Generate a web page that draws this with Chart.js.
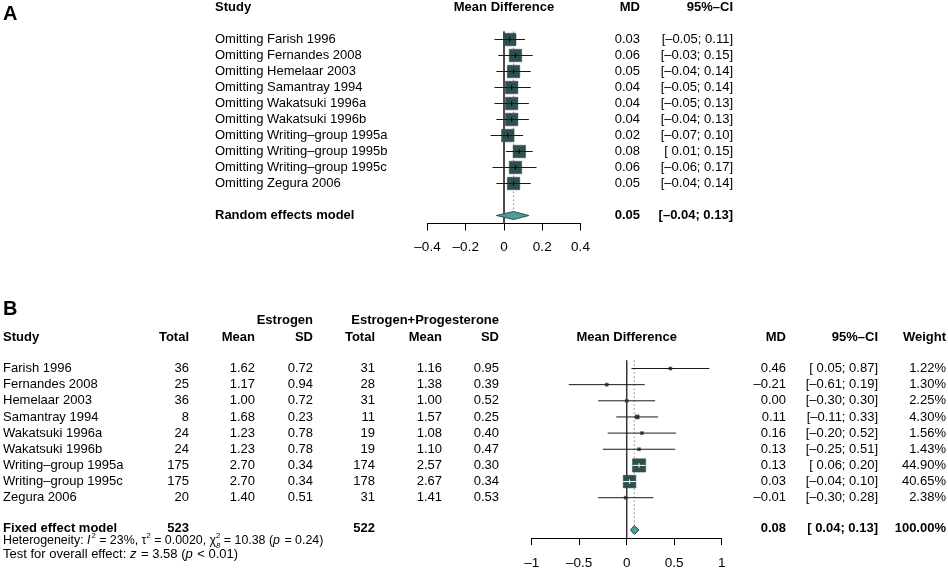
<!DOCTYPE html>
<html><head><meta charset="utf-8">
<script src="https://cdn.jsdelivr.net/npm/chart.js@4.4.0/dist/chart.umd.min.js"></script>
<style>
html,body{margin:0;padding:0;background:#fff;width:948px;height:569px;overflow:hidden}
canvas{position:absolute;left:0;display:block}
#ca{top:0}
#cb{top:290px}
</style></head><body>
<canvas id="ca" width="948" height="290"></canvas>
<canvas id="cb" width="948" height="279"></canvas>
<script>
// ---------- Panel A data (leave-one-out, random effects) ----------
const studiesA = ["Omitting Farish 1996","Omitting Fernandes 2008","Omitting Hemelaar 2003","Omitting Samantray 1994","Omitting Wakatsuki 1996a","Omitting Wakatsuki 1996b","Omitting Writing\u2013group 1995a","Omitting Writing\u2013group 1995b","Omitting Writing\u2013group 1995c","Omitting Zegura 2006"];
const mdA = [0.03,0.06,0.05,0.04,0.04,0.04,0.02,0.08,0.06,0.05];
const loA = [-0.05,-0.03,-0.04,-0.05,-0.05,-0.04,-0.07,0.01,-0.06,-0.04];
const hiA = [0.11,0.15,0.14,0.14,0.13,0.13,0.10,0.15,0.17,0.14];
const pooledLabelA = "Random effects model";
const pooledMdA = 0.05, pooledLoA = -0.04, pooledHiA = 0.13;
const ticksA = [-0.4,-0.2,0,0.2,0.4];
const headersA = ["Study","Mean Difference","MD","95%\u2013CI"];

// ---------- Panel B data (fixed effect) ----------
const studiesB = ["Farish 1996","Fernandes 2008","Hemelaar 2003","Samantray 1994","Wakatsuki 1996a","Wakatsuki 1996b","Writing\u2013group 1995a","Writing\u2013group 1995c","Zegura 2006"];
const totalE = [36,25,36,8,24,24,175,175,20];
const meanE  = [1.62,1.17,1.00,1.68,1.23,1.23,2.70,2.70,1.40];
const sdE    = [0.72,0.94,0.72,0.23,0.78,0.78,0.34,0.34,0.51];
const totalEP = [31,28,31,11,19,19,174,178,31];
const meanEP  = [1.16,1.38,1.00,1.57,1.08,1.10,2.57,2.67,1.41];
const sdEP    = [0.95,0.39,0.52,0.25,0.40,0.47,0.30,0.34,0.53];
const mdB = [0.46,-0.21,0.00,0.11,0.16,0.13,0.13,0.03,-0.01];
const loB = [0.05,-0.61,-0.30,-0.11,-0.20,-0.25,0.06,-0.04,-0.30];
const hiB = [0.87,0.19,0.30,0.33,0.52,0.51,0.20,0.10,0.28];
const weightB = [1.22,1.30,2.25,4.30,1.56,1.43,44.90,40.65,2.38];
const pooledLabelB = "Fixed effect model";
const pooledTotalE = 523, pooledTotalEP = 522;
const pooledMdB = 0.08, pooledLoB = 0.04, pooledHiB = 0.13, pooledWeightB = 100.00;
const ticksB = [-1,-0.5,0,0.5,1];
const groupHeadersB = ["Estrogen","Estrogen+Progesterone"];
const headersB = ["Study","Total","Mean","SD","Total","Mean","SD","Mean Difference","MD","95%\u2013CI","Weight"];
const hetI2 = "23%", hetTau2 = "0.0020", hetChi2 = "10.38", hetDf = "8", hetP = "0.24";
const testZ = "3.58", testP = "< 0.01";

// ---------- helpers ----------
const FONT = "'Liberation Sans', Arial, Helvetica, sans-serif";
Chart.defaults.font.family = FONT;
Chart.defaults.color = '#000';
const DASH = '\u2013';
const SQ = '#2f4f4f', DIA = '#4f9d96', LINE = '#1a1a1a';
const num = v => (v < 0 ? DASH : '') + Math.abs(v).toFixed(2);
const ci = (lo, hi) => '[' + (lo < 0 ? DASH : ' ') + Math.abs(lo).toFixed(2) + '; ' + num(hi) + ']';
const tickLabel = v => { const r = Math.round(v * 100) / 100; return (r < 0 ? DASH : '') + String(Math.abs(r)); };

function txt(ctx, s, x, y, align, bold, size) {
  ctx.font = (bold ? 'bold ' : '') + (size || 13) + 'px ' + FONT;
  ctx.textAlign = align; ctx.textBaseline = 'middle'; ctx.fillStyle = '#000';
  ctx.fillText(s, x, y);
}
function rich(ctx, parts, x, y, size, ss) {
  let cx = x; ctx.textAlign = 'left'; ctx.textBaseline = 'middle'; ctx.fillStyle = '#000';
  for (const p of parts) {
    if (typeof p === 'string') {
      ctx.font = size + 'px ' + FONT; ctx.fillText(p, cx, y); cx += ctx.measureText(p).width;
    } else if (p.it) {
      ctx.font = 'italic ' + size + 'px ' + FONT; ctx.fillText(p.it, cx, y); cx += ctx.measureText(p.it).width + 1;
    } else {
      ctx.font = (size * ss) + 'px ' + FONT; let w = 0;
      if (p.sup) { ctx.fillText(p.sup, cx, y - size * 0.42); w = Math.max(w, ctx.measureText(p.sup).width); }
      if (p.sub) { ctx.font = 'italic ' + (size * ss) + 'px ' + FONT; ctx.fillText(p.sub, cx, y + size * 0.38); w = Math.max(w, ctx.measureText(p.sub).width); }
      cx += w;
    }
  }
}

function xScale(min, max, ticksArr, height, pad) {
  return {
    type: 'linear', position: 'bottom', min, max,
    afterBuildTicks: s => { s.ticks = ticksArr.map(v => ({ value: v })); },
    afterFit: s => { s.height = height; },
    ticks: { callback: v => tickLabel(v), font: { size: 13.5, family: FONT }, color: '#000', padding: pad, maxRotation: 0, autoSkip: false },
    grid: { drawOnChartArea: false, drawTicks: true, tickLength: 7, color: '#000', lineWidth: 1 },
    border: { display: true, color: '#000', width: 1 }
  };
}

function forestDatasets(md, lo, hi, sides, ciColors, tickRadius, tickColors, pMd, pLo, pHi, pRow, half, yTop, yBottom) {
  const ds = [];
  ds.push({ type: 'line', data: [{ x: 0, y: yTop }, { x: 0, y: yBottom }], borderColor: '#333', borderWidth: 1, pointRadius: 0, order: 10, clip: false });
  ds.push({ type: 'line', data: [{ x: pMd, y: yTop }, { x: pMd, y: pRow - half }], borderColor: '#888', borderWidth: 1, borderDash: [1.5, 2.5], pointRadius: 0, order: 9, clip: false });
  ds.push({ type: 'scatter', data: md.map((v, i) => ({ x: v, y: i })), pointStyle: 'rect', pointRadius: sides.map(s => s / Math.SQRT2), pointHoverRadius: sides.map(s => s / Math.SQRT2), backgroundColor: SQ, borderColor: SQ, borderWidth: 0.5, order: 5, clip: false });
  md.forEach((v, i) => {
    ds.push({ type: 'line', data: [{ x: lo[i], y: i }, { x: hi[i], y: i }], borderColor: ciColors[i], borderWidth: 1, pointRadius: 0, order: 3, clip: false });
  });
  ds.push({ type: 'scatter', data: md.map((v, i) => ({ x: v, y: i })), pointStyle: 'line', rotation: 90, pointRadius: tickRadius, borderColor: tickColors, borderWidth: 1, order: 2, clip: false });
  ds.push({ type: 'line', data: [{ x: pLo, y: pRow }, { x: pMd, y: pRow - half }, { x: pHi, y: pRow }, { x: pMd, y: pRow + half }, { x: pLo, y: pRow }], borderColor: SQ, borderWidth: 1, backgroundColor: DIA, fill: 'shape', tension: 0, pointRadius: 0, order: 1, clip: false });
  return ds;
}
const baseOpts = { responsive: false, animation: false, devicePixelRatio: 1, events: [], plugins: { legend: { display: false }, tooltip: { enabled: false } } };

// ---------- Chart A ----------
const sidesA = mdA.map(() => 12.5);
const textA = {
  id: 'textA',
  afterDraw(chart) {
    const ctx = chart.ctx, Y = r => chart.scales.y.getPixelForValue(r), X = v => chart.scales.x.getPixelForValue(v);
    ctx.save();
    txt(ctx, 'A', 3, 14.5, 'left', true, 20);
    const hy = Y(-2.0);
    txt(ctx, headersA[0], 215, hy, 'left', true);
    txt(ctx, headersA[1], X(0), hy, 'center', true);
    txt(ctx, headersA[2], 640, hy, 'right', true);
    txt(ctx, headersA[3], 733, hy, 'right', true);
    studiesA.forEach((s, i) => {
      txt(ctx, s, 215, Y(i), 'left', false);
      txt(ctx, num(mdA[i]), 640, Y(i), 'right', false);
      txt(ctx, ci(loA[i], hiA[i]), 733, Y(i), 'right', false);
    });
    const pr = studiesA.length + 1;
    txt(ctx, pooledLabelA, 215, Y(pr), 'left', true);
    txt(ctx, num(pooledMdA), 640, Y(pr), 'right', true);
    txt(ctx, ci(pooledLoA, pooledHiA), 733, Y(pr), 'right', true);
    ctx.restore();
  }
};
const pRowA = studiesA.length + 1;
new Chart(document.getElementById('ca'), {
  type: 'scatter',
  data: { datasets: forestDatasets(mdA, loA, hiA, sidesA, mdA.map(() => LINE), mdA.map(() => 2.2), mdA.map(() => '#000'), pooledMdA, pooledLoA, pooledHiA, pRowA, 0.25, -0.5, pRowA + 0.5) },
  options: Object.assign({}, baseOpts, {
    layout: { padding: { left: 427.5, right: 948 - 580.5, top: 31.5, bottom: 290 - 223.5 - 40 } },
    scales: { x: xScale(-0.4, 0.4, ticksA, 40, 9), y: { type: 'linear', reverse: true, min: -0.5, max: pRowA + 0.5, display: false } }
  }),
  plugins: [textA]
});

// ---------- Chart B ----------
const rowB = 16.15;
const maxW = Math.max(...weightB);
const sidesB = weightB.map(w => Math.max(3, 13.3 * Math.sqrt(w / maxW)));
const pxPerUnitB = 95;
const ciColorsB = weightB.map((w, i) => ((hiB[i] - loB[i]) * pxPerUnitB <= sidesB[i] + 1 ? '#ffffff' : LINE));
const tickRB = sidesB.map(s => (s > 8 ? 2.2 : 0));
const tickCB = ciColorsB.map(c => (c === '#ffffff' ? '#ffffff' : '#000'));
const pRowB = studiesB.length + 1;
const textB = {
  id: 'textB',
  afterDraw(chart) {
    const ctx = chart.ctx, Y = r => chart.scales.y.getPixelForValue(r), X = v => chart.scales.x.getPixelForValue(v);
    ctx.save();
    txt(ctx, 'B', 3, 19, 'left', true, 20);
    const g = Y(-3.0), h = Y(-1.95);
    txt(ctx, groupHeadersB[0], 313, g, 'right', true);
    txt(ctx, groupHeadersB[1], 499, g, 'right', true);
    const colsR = [189, 255, 313, 375, 442, 499];
    txt(ctx, headersB[0], 3, h, 'left', true);
    for (let c = 0; c < 6; c++) txt(ctx, headersB[c + 1], colsR[c], h, 'right', true);
    txt(ctx, headersB[7], X(0), h, 'center', true);
    txt(ctx, headersB[8], 786, h, 'right', true);
    txt(ctx, headersB[9], 878, h, 'right', true);
    txt(ctx, headersB[10], 946, h, 'right', true);
    studiesB.forEach((s, i) => {
      const y = Y(i);
      txt(ctx, s, 3, y, 'left', false);
      txt(ctx, String(totalE[i]), colsR[0], y, 'right', false);
      txt(ctx, meanE[i].toFixed(2), colsR[1], y, 'right', false);
      txt(ctx, sdE[i].toFixed(2), colsR[2], y, 'right', false);
      txt(ctx, String(totalEP[i]), colsR[3], y, 'right', false);
      txt(ctx, meanEP[i].toFixed(2), colsR[4], y, 'right', false);
      txt(ctx, sdEP[i].toFixed(2), colsR[5], y, 'right', false);
      txt(ctx, num(mdB[i]), 786, y, 'right', false);
      txt(ctx, ci(loB[i], hiB[i]), 878, y, 'right', false);
      txt(ctx, weightB[i].toFixed(2) + '%', 946, y, 'right', false);
    });
    const py = Y(pRowB) - 1.5;
    txt(ctx, pooledLabelB, 3, py, 'left', true);
    txt(ctx, String(pooledTotalE), colsR[0], py, 'right', true);
    txt(ctx, String(pooledTotalEP), colsR[3], py, 'right', true);
    txt(ctx, num(pooledMdB), 786, py, 'right', true);
    txt(ctx, ci(pooledLoB, pooledHiB), 878, py, 'right', true);
    txt(ctx, pooledWeightB.toFixed(2) + '%', 946, py, 'right', true);
    rich(ctx, ['Heterogeneity: ', { it: 'I' }, { sup: '2' }, ' = ' + hetI2 + ', \u03c4', { sup: '2' }, ' = ' + hetTau2 + ', \u03c7', { sup: '2', sub: hetDf }, ' = ' + hetChi2 + ' (', { it: 'p' }, ' = ' + hetP + ')'], 3, Y(pRowB + 0.68), 12.4, 0.62);
    rich(ctx, ['Test for overall effect: ', { it: 'z' }, ' = ' + testZ + ' (', { it: 'p' }, ' ' + testP + ')'], 3, Y(pRowB + 1.5), 13, 0.62);
    ctx.restore();
  }
};
new Chart(document.getElementById('cb'), {
  type: 'scatter',
  data: { datasets: forestDatasets(mdB, loB, hiB, sidesB, ciColorsB, tickRB, tickCB, pooledMdB, pooledLoB, pooledHiB, pRowB, 0.28, -0.5, pRowB + 0.5) },
  options: Object.assign({}, baseOpts, {
    layout: { padding: { left: 531.7, right: 948 - 721.7, top: 368.5 - 0.5 * rowB - 290, bottom: 0 } },
    scales: { x: xScale(-1, 1, ticksB, 279 - (368.5 + 10.5 * rowB - 290), 10), y: { type: 'linear', reverse: true, min: -0.5, max: pRowB + 0.5, display: false } }
  }),
  plugins: [textB]
});
</script></body></html>
